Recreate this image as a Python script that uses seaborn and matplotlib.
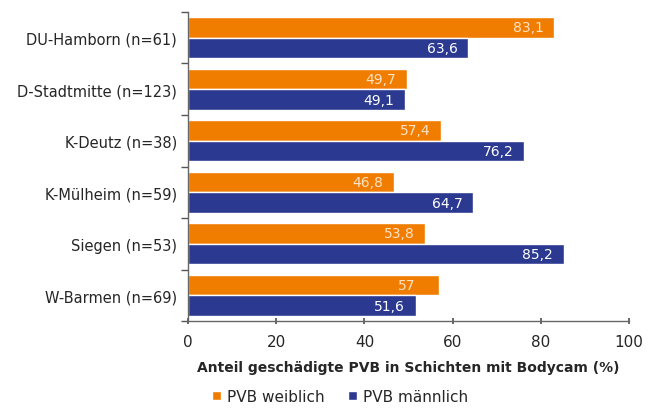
import pandas as pd
import seaborn as sns
import matplotlib.pyplot as plt
from matplotlib.ticker import FixedLocator

standorte = ["DU-Hamborn (n=61)", "D-Stadtmitte (n=123)", "K-Deutz (n=38)",
             "K-Mülheim (n=59)", "Siegen (n=53)", "W-Barmen (n=69)"]
weiblich = [83.1, 49.7, 57.4, 46.8, 53.8, 57]
maennlich = [63.6, 49.1, 76.2, 64.7, 85.2, 51.6]
gruppen = ["PVB weiblich", "PVB männlich"]

sns.set_theme(style="white")
plt.rcParams['font.family'] = ['DejaVu Sans']

df = pd.DataFrame({
    "Standort": standorte * 2,
    "Anteil": weiblich + maennlich,
    "Gruppe": [gruppen[0]] * len(standorte) + [gruppen[1]] * len(standorte),
})

fig = plt.figure(figsize=(6.54, 4.10), dpi=100)
ax = fig.add_axes([0.2875, 0.2146, 0.6743, 0.7537])

sns.barplot(data=df, x="Anteil", y="Standort", hue="Gruppe", orient="h",
            palette=["#F07D00", "#2B3990"], width=0.8, saturation=1,
            ax=ax, legend=True)

label_farben = ["#FDE3C8", "white"]
for cont, farbe in zip(ax.containers, label_farben):
    labels = [f"{v:g}".replace(".", ",") for v in cont.datavalues]
    ax.bar_label(cont, labels=labels, padding=-30, color=farbe, fontsize=10)

ax.set_xlim(0, 100)
ax.set_ylim(5.5, -0.5)
ax.set_xticks([0, 20, 40, 60, 80, 100])
ax.set_xlabel("Anteil geschädigte PVB in Schichten mit Bodycam (%)",
              fontsize=10, fontweight="bold", labelpad=8)
ax.set_ylabel("")

ax.yaxis.set_minor_locator(FixedLocator([i - 0.5 for i in range(len(standorte) + 1)]))
ax.tick_params(axis="y", which="major", length=0, labelsize=10.5, pad=8)
ax.tick_params(axis="y", which="minor", length=5, color="#555555", width=1, left=True)
ax.tick_params(axis="x", length=5, direction="inout", color="#555555",
               labelsize=11, bottom=True, pad=7)

for s in ["top", "right"]:
    ax.spines[s].set_visible(False)
for s in ["left", "bottom"]:
    ax.spines[s].set_color("#666666")
    ax.spines[s].set_linewidth(1)

ax.legend(loc="upper center", bbox_to_anchor=(0.345, -0.175), ncol=2, frameon=False,
          fontsize=11, handlelength=0.6, handleheight=0.6, handletextpad=0.4,
          columnspacing=1.5)

plt.savefig("out.png", dpi=100)
